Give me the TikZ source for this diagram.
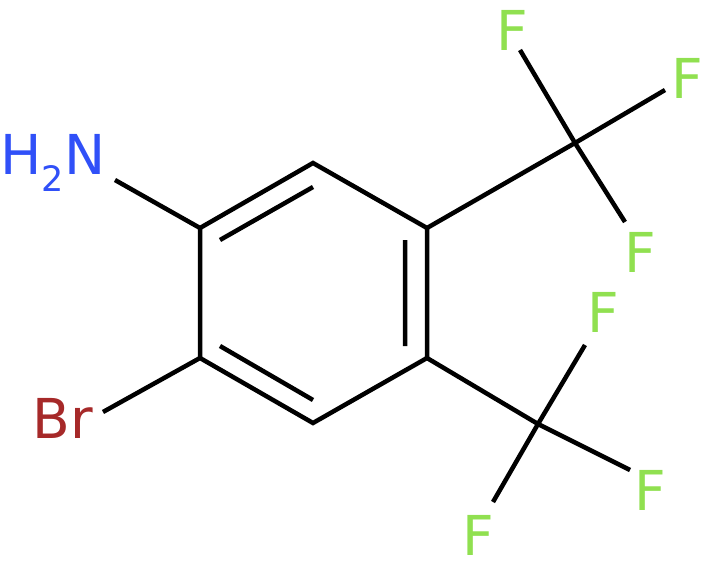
\documentclass[tikz,border=0pt]{standalone}
\usepackage{fontspec}
\setmainfont{DejaVu Sans}
\definecolor{nblue}{HTML}{3050F8}
\definecolor{brred}{HTML}{A62929}
\definecolor{fgreen}{HTML}{90E050}
\begin{document}
\begin{tikzpicture}[x=1pt,y=-1pt,line width=4.5pt,
  bond/.style={draw=black,line cap=butt},
  lbl/.style={inner sep=0pt,font=\fontsize{55}{60}\selectfont}]
\useasboundingbox (0,0) rectangle (706,564);
\coordinate (c1) at (200,228);
\coordinate (c2) at (313,163);
\coordinate (c3) at (427,228);
\coordinate (c4) at (427,358);
\coordinate (c5) at (313,423);
\coordinate (c6) at (200,358);
\coordinate (nb) at (115,180);
\coordinate (brb) at (103,412);
\coordinate (ct) at (575,143);
\coordinate (cb) at (538,424);
\coordinate (f1e) at (520,50);
\coordinate (f2e) at (665,90);
\coordinate (f3e) at (625,222);
\coordinate (f4e) at (585,345);
\coordinate (f5e) at (630,470);
\coordinate (f6e) at (493,502);
\coordinate (d1a) at (220,240); \coordinate (d1b) at (313,187);
\coordinate (d2a) at (405,240); \coordinate (d2b) at (405,346);
\coordinate (d3a) at (220,346); \coordinate (d3b) at (313,400);
\draw[bond] (c1)--(c2)--(c3)--(c4)--(c5)--(c6)--cycle;
\draw[bond] (d1a)--(d1b) (d2a)--(d2b) (d3a)--(d3b);
\draw[bond] (c1)--(nb) (c6)--(brb) (c3)--(ct) (c4)--(cb);
\draw[bond] (ct)--(f1e) (ct)--(f2e) (ct)--(f3e);
\draw[bond] (cb)--(f4e) (cb)--(f5e) (cb)--(f6e);
\node[lbl,text=nblue] (n) at (53,163) {H\raisebox{-0.3em}{\fontsize{35}{35}\selectfont 2}N};
\node[lbl,text=brred] (br) at (63,418) {Br};
\node[lbl,text=fgreen] (fa) at (512,30) {F};
\node[lbl,text=fgreen] (fb) at (687,78) {F};
\node[lbl,text=fgreen] (fc) at (640,252) {F};
\node[lbl,text=fgreen] (fd) at (603,312) {F};
\node[lbl,text=fgreen] (fe) at (650,490) {F};
\node[lbl,text=fgreen] (ff) at (478,535) {F};
\end{tikzpicture}
\end{document}
